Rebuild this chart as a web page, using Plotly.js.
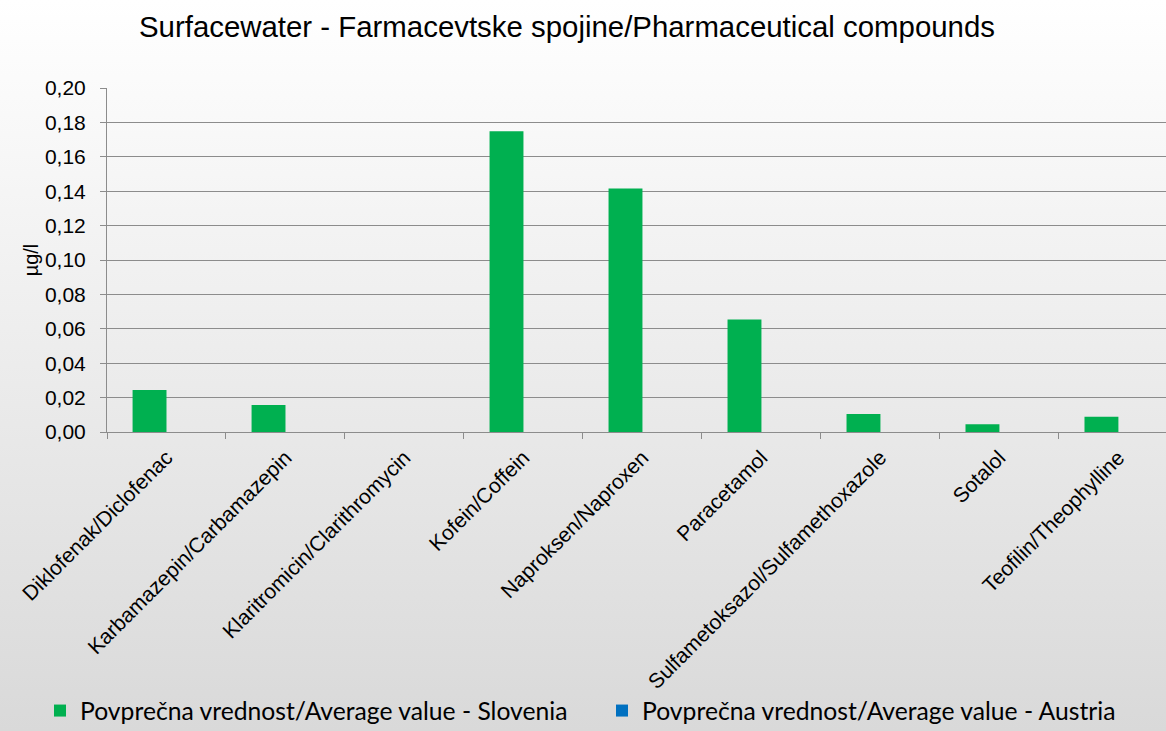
<!DOCTYPE html>
<html>
<head>
<meta charset="utf-8">
<script src="https://cdn.plot.ly/plotly-3.0.1.min.js"></script>
<style>
  html, body { margin: 0; padding: 0; }
  #chart { width: 1166px; height: 731px; background: linear-gradient(to bottom, #ffffff 0%, #d9d9d9 100%); }
</style>
</head>
<body>
<div id="chart"></div>
<script>
const categories = [
  "Diklofenak/Diclofenac",
  "Karbamazepin/Carbamazepin",
  "Klaritromicin/Clarithromycin",
  "Kofein/Coffein",
  "Naproksen/Naproxen",
  "Paracetamol",
  "Sulfametoksazol/Sulfamethoxazole",
  "Sotalol",
  "Teofilin/Theophylline"
];
const sloveniaValues = [0.0244, 0.0157, 0, 0.1749, 0.1415, 0.0654, 0.0105, 0.0045, 0.0089];
const austriaValues = [null, null, null, null, null, null, null, null, null];
const yTickVals = [0, 0.02, 0.04, 0.06, 0.08, 0.10, 0.12, 0.14, 0.16, 0.18, 0.20];

const traces = [
  {
    type: "bar", x: categories, y: sloveniaValues,
    name: "Povprečna vrednost/Average value - Slovenia",
    marker: { color: "#00b050" },
    legend: "legend"
  },
  {
    type: "bar", x: categories, y: austriaValues,
    name: "Povprečna vrednost/Average value - Austria",
    marker: { color: "#0070c0" },
    legend: "legend2"
  }
];

const legendFont = { size: 24.7, family: "Lato, Carlito, Calibri, sans-serif", color: "#000" };

const layout = {
  width: 1166, height: 731,
  paper_bgcolor: "rgba(0,0,0,0)",
  plot_bgcolor: "rgba(0,0,0,0)",
  separators: ",.",
  margin: { l: 107, r: 0, t: 88, b: 299 },
  barmode: "group",
  bargap: 0.43,
  bargroupgap: 0,
  font: { family: "Liberation Sans, Arial, sans-serif", color: "#000" },
  title: {
    text: "Surfacewater - Farmacevtske spojine/Pharmaceutical compounds",
    font: { size: 29.4, family: "Liberation Sans, Arial, sans-serif", color: "#000" },
    x: 567 / 1166, xanchor: "center", y: 1 - 27 / 731, yanchor: "middle"
  },
  xaxis: {
    type: "category",
    range: [-0.5, 8.4],
    tickangle: -45,
    tickson: "boundaries",
    ticks: "outside", ticklen: 6, tickcolor: "#8c8c8c",
    ticklabelstandoff: 4,
    showline: true, linecolor: "#8c8c8c", linewidth: 1,
    showgrid: false,
    tickfont: { size: 21 },
    automargin: false
  },
  yaxis: {
    range: [0, 0.2],
    tickvals: yTickVals,
    tickformat: ".2f",
    ticks: "outside", ticklen: 6, tickcolor: "#8c8c8c",
    ticklabelstandoff: 10,
    showline: true, linecolor: "#8c8c8c", linewidth: 1,
    showgrid: true, gridcolor: "#8c8c8c", gridwidth: 1,
    zeroline: false,
    tickfont: { size: 21 },
    title: { text: "µg/l", font: { size: 20 }, standoff: 0 },
    automargin: false
  },
  showlegend: true,
  legend: {
    orientation: "h",
    xref: "container", yref: "container",
    x: 40 / 1166, xanchor: "left",
    y: 1 - 711 / 731, yanchor: "middle",
    font: legendFont,
    bgcolor: "rgba(0,0,0,0)"
  },
  legend2: {
    orientation: "h",
    xref: "container", yref: "container",
    x: 602 / 1166, xanchor: "left",
    y: 1 - 711 / 731, yanchor: "middle",
    font: legendFont,
    bgcolor: "rgba(0,0,0,0)"
  }
};

Plotly.newPlot("chart", traces, layout, { displayModeBar: false, staticPlot: true });
</script>
</body>
</html>
